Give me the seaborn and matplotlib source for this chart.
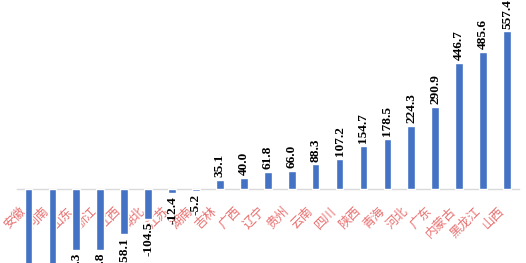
import matplotlib
matplotlib.use("Agg")
import matplotlib.pyplot as plt
import matplotlib.transforms as mtransforms
import seaborn as sns
import pandas as pd

provinces = ["安徽", "河南", "山东", "浙江", "江西", "湖北", "江苏", "湖南", "吉林", "广西",
             "辽宁", "贵州", "云南", "四川", "陕西", "青海", "河北", "广东", "内蒙古", "黑龙江", "山西"]
values = [-352.6, -301.4, -214.3, -212.8, -158.1, -104.5, -12.4, -5.2, 35.1, 40.0,
          61.8, 66.0, 88.3, 107.2, 154.7, 178.5, 224.3, 290.9, 446.7, 485.6, 557.4]

df = pd.DataFrame({"province": provinces, "value": values})

sns.set_theme(style="white")
plt.rcParams["font.family"] = ["Noto Sans CJK SC", "DejaVu Sans"]

fig = plt.figure(figsize=(5.26, 2.63), dpi=100)
ax = fig.add_axes([16.5 / 526, 0, (519 - 16.5) / 526, 1])

sns.barplot(data=df, x="province", y="value", color="#4472C4", width=0.32,
            saturation=1, ax=ax)

ax.set_ylim(-259.3, 668.4)
ax.set_xlim(-0.5, len(provinces) - 0.5)
ax.set_xlabel("")
ax.set_ylabel("")
ax.set_yticks([])

for s in ["top", "left", "right"]:
    ax.spines[s].set_visible(False)
ax.spines["bottom"].set_position(("data", 0))
ax.spines["bottom"].set_color("#D9D9D9")
ax.spines["bottom"].set_linewidth(1.0)
ax.spines["bottom"].set_zorder(0)

ax.tick_params(axis="x", length=0, pad=14)
ax.set_xticks(range(len(provinces)))
ax.set_xticklabels(provinces, rotation=45, ha="right", va="center",
                   rotation_mode="anchor", color="#E87070", fontsize=9)
offset = mtransforms.ScaledTranslation(-5 / 100, 0, fig.dpi_scale_trans)
for lab in ax.get_xticklabels():
    lab.set_transform(lab.get_transform() + offset)

for c in ax.containers:
    ax.bar_label(c, fmt="%.1f", rotation=90, padding=2, fontsize=9.5,
                 fontweight="bold", family="Liberation Serif", color="black")

fig.savefig("out.png", dpi=100)
